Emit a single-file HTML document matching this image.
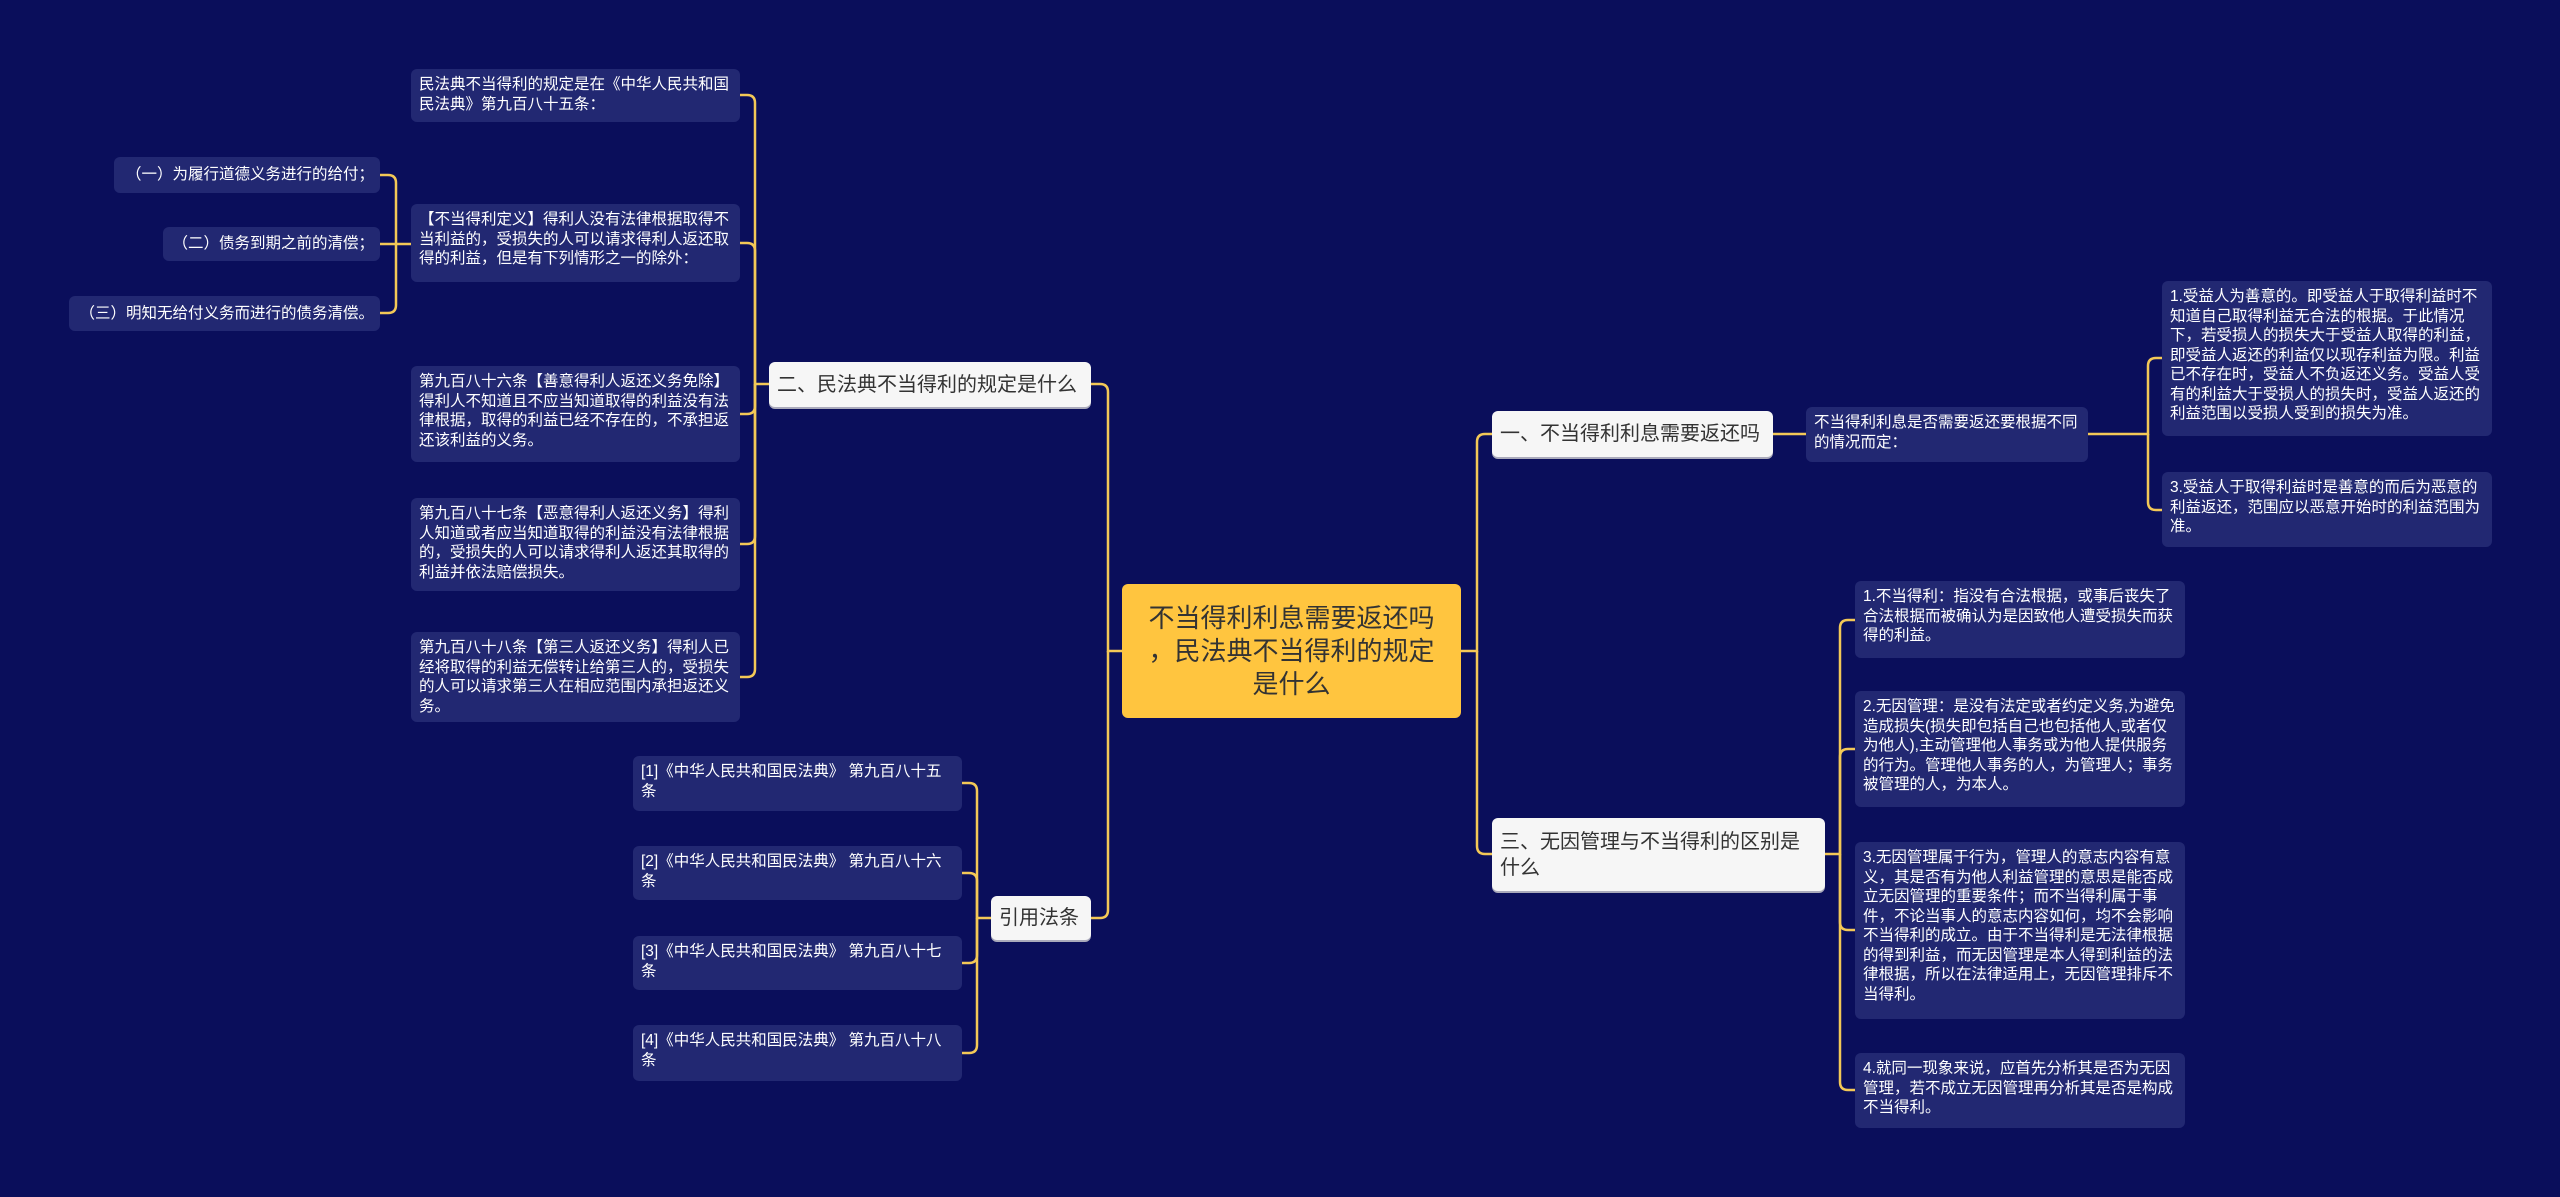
<!DOCTYPE html>
<html><head><meta charset="utf-8"><style>
body{margin:0;width:2560px;height:1197px;background:#0a0e5b;overflow:hidden;position:relative;font-family:"Liberation Sans","Noto Sans CJK SC",sans-serif}
.n{position:absolute;box-sizing:border-box;border-radius:6px}
.l{background:#222872;color:#fff;font-size:15.5px;line-height:19.5px;padding:6px 6px 6px 8px}
.w{background:#f6f6f6;color:#333;font-size:20px;line-height:26px;padding:0 8px;display:flex;align-items:center;box-shadow:0 2px 0 #aab}
.c{background:#ffc53f;color:#333;font-size:26px;line-height:33px;text-align:center;display:flex;align-items:center;justify-content:center;padding:0 8px;white-space:nowrap}
.nw{white-space:nowrap}
svg{position:absolute;left:0;top:0}
path{fill:none;stroke:#f3c857;stroke-width:2.5}
</style></head><body>
<svg width="2560" height="1197">
<path d="M1122,651 H1108 V392 Q1108,384 1100,384 H1091"/>
<path d="M1108,651 V910 Q1108,918 1100,918 H1091"/>
<path d="M769,384 H755 V103 Q755,95 747,95 H740"/>
<path d="M755,384 V251 Q755,243 747,243 H740"/>
<path d="M755,384 V406 Q755,414 747,414 H740"/>
<path d="M755,384 V536 Q755,544 747,544 H740"/>
<path d="M755,384 V669 Q755,677 747,677 H740"/>
<path d="M411,244 H396 V183 Q396,175 388,175 H380"/>
<path d="M396,244 H380"/>
<path d="M396,244 V305 Q396,313 388,313 H380"/>
<path d="M991,918 H977 V791 Q977,783 969,783 H962"/>
<path d="M977,918 V881 Q977,873 969,873 H962"/>
<path d="M977,918 V955 Q977,963 969,963 H962"/>
<path d="M977,918 V1045 Q977,1053 969,1053 H962"/>
<path d="M1461,651 H1477 V442 Q1477,434 1485,434 H1492"/>
<path d="M1477,651 V846 Q1477,854 1485,854 H1492"/>
<path d="M1773,434 H1806"/>
<path d="M2088,434 H2148 V366 Q2148,358 2156,358 H2162"/>
<path d="M2148,434 V502 Q2148,510 2156,510 H2162"/>
<path d="M1825,854 H1840 V628 Q1840,620 1848,620 H1855"/>
<path d="M1840,854 V757 Q1840,749 1848,749 H1855"/>
<path d="M1840,854 V922 Q1840,930 1848,930 H1855"/>
<path d="M1840,854 V1082 Q1840,1090 1848,1090 H1855"/>
</svg>
<div class="n c" style="left:1122px;top:584px;width:339px;height:134px"><div>不当得利利息需要返还吗<br>，民法典不当得利的规定<br>是什么</div></div>
<div class="n w nw" style="left:769px;top:362px;width:322px;height:45px">二、民法典不当得利的规定是什么</div>
<div class="n w nw" style="left:991px;top:896px;width:100px;height:44px">引用法条</div>
<div class="n w nw" style="left:1492px;top:411px;width:281px;height:46px">一、不当得利利息需要返还吗</div>
<div class="n w" style="left:1492px;top:818px;width:333px;height:73px">三、无因管理与不当得利的区别是什么</div>

<div class="n l" style="left:411px;top:69px;width:329px;height:53px">民法典不当得利的规定是在《中华人民共和国民法典》第九百八十五条：</div>
<div class="n l" style="left:411px;top:204px;width:329px;height:78px">【不当得利定义】得利人没有法律根据取得不当利益的，受损失的人可以请求得利人返还取得的利益，但是有下列情形之一的除外：</div>
<div class="n l" style="left:411px;top:366px;width:329px;height:96px">第九百八十六条【善意得利人返还义务免除】得利人不知道且不应当知道取得的利益没有法律根据，取得的利益已经不存在的，不承担返还该利益的义务。</div>
<div class="n l" style="left:411px;top:498px;width:329px;height:93px">第九百八十七条【恶意得利人返还义务】得利人知道或者应当知道取得的利益没有法律根据的，受损失的人可以请求得利人返还其取得的利益并依法赔偿损失。</div>
<div class="n l" style="left:411px;top:632px;width:329px;height:90px">第九百八十八条【第三人返还义务】得利人已经将取得的利益无偿转让给第三人的，受损失的人可以请求第三人在相应范围内承担返还义务。</div>
<div class="n l nw" style="left:114px;top:157px;width:266px;height:36px;text-align:right;padding-top:8px">（一）为履行道德义务进行的给付；</div>
<div class="n l nw" style="left:163px;top:227px;width:217px;height:34px;text-align:right;padding-top:7px">（二）债务到期之前的清偿；</div>
<div class="n l nw" style="left:69px;top:296px;width:311px;height:35px;text-align:right;padding-top:8px">（三）明知无给付义务而进行的债务清偿。</div>

<div class="n l" style="left:633px;top:756px;width:329px;height:55px">[1]《中华人民共和国民法典》 第九百八十五条</div>
<div class="n l" style="left:633px;top:846px;width:329px;height:54px">[2]《中华人民共和国民法典》 第九百八十六条</div>
<div class="n l" style="left:633px;top:936px;width:329px;height:54px">[3]《中华人民共和国民法典》 第九百八十七条</div>
<div class="n l" style="left:633px;top:1025px;width:329px;height:56px">[4]《中华人民共和国民法典》 第九百八十八条</div>

<div class="n l" style="left:1806px;top:407px;width:282px;height:55px">不当得利利息是否需要返还要根据不同的情况而定：</div>
<div class="n l" style="left:2162px;top:281px;width:330px;height:155px">1.受益人为善意的。即受益人于取得利益时不知道自己取得利益无合法的根据。于此情况下，若受损人的损失大于受益人取得的利益，即受益人返还的利益仅以现存利益为限。利益已不存在时，受益人不负返还义务。受益人受有的利益大于受损人的损失时，受益人返还的利益范围以受损人受到的损失为准。</div>
<div class="n l" style="left:2162px;top:472px;width:330px;height:75px">3.受益人于取得利益时是善意的而后为恶意的利益返还，范围应以恶意开始时的利益范围为准。</div>
<div class="n l" style="left:1855px;top:581px;width:330px;height:77px">1.不当得利：指没有合法根据，或事后丧失了合法根据而被确认为是因致他人遭受损失而获得的利益。</div>
<div class="n l" style="left:1855px;top:691px;width:330px;height:116px">2.无因管理：是没有法定或者约定义务,为避免造成损失(损失即包括自己也包括他人,或者仅为他人),主动管理他人事务或为他人提供服务的行为。管理他人事务的人，为管理人；事务被管理的人，为本人。</div>
<div class="n l" style="left:1855px;top:842px;width:330px;height:177px">3.无因管理属于行为，管理人的意志内容有意义，其是否有为他人利益管理的意思是能否成立无因管理的重要条件；而不当得利属于事件，不论当事人的意志内容如何，均不会影响不当得利的成立。由于不当得利是无法律根据的得到利益，而无因管理是本人得到利益的法律根据，所以在法律适用上，无因管理排斥不当得利。</div>
<div class="n l" style="left:1855px;top:1053px;width:330px;height:75px">4.就同一现象来说，应首先分析其是否为无因管理，若不成立无因管理再分析其是否是构成不当得利。</div>
</body></html>
